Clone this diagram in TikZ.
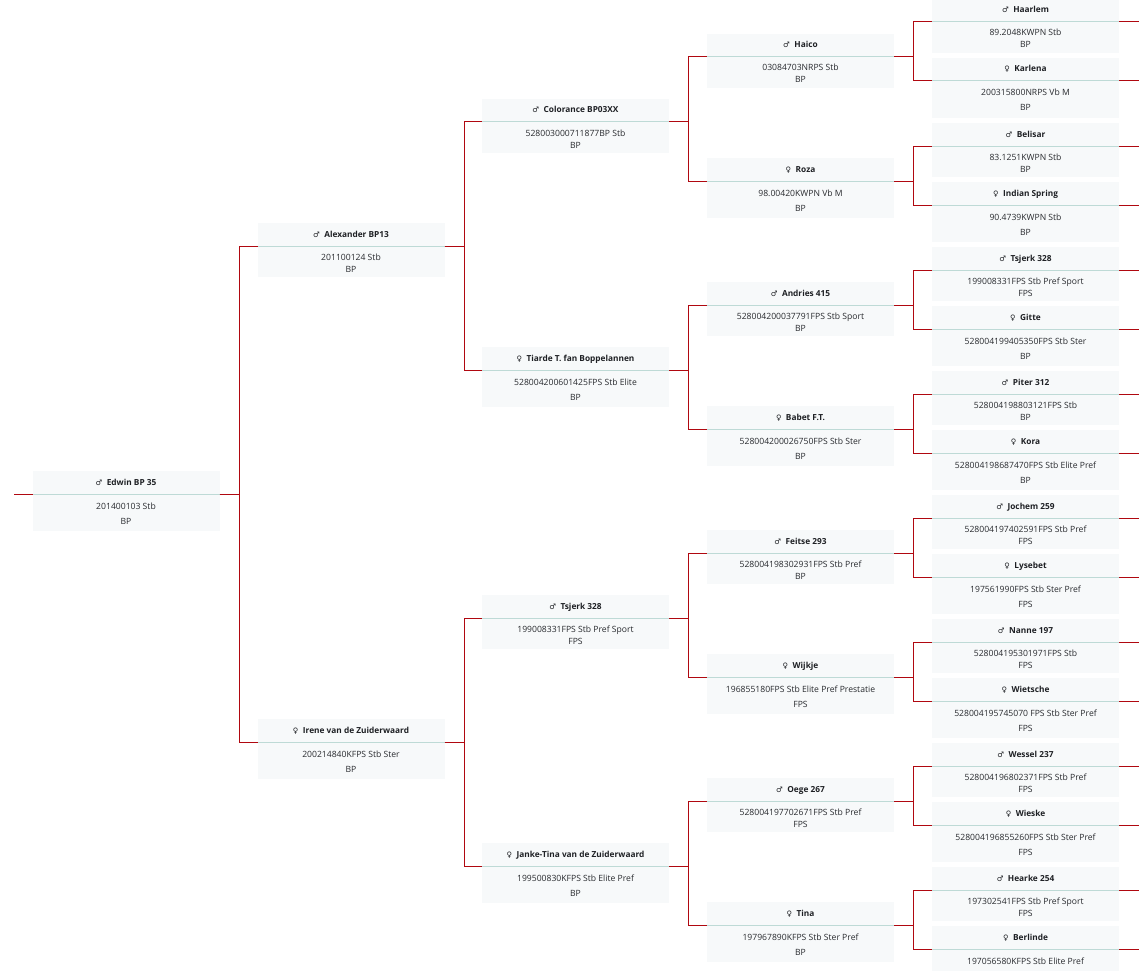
\documentclass[tikz,border=0pt]{standalone}
\usepackage{fontspec}
\setmainfont{Open Sans}
\newfontfamily\symfont{DejaVu Sans}
\definecolor{linered}{RGB}{176,8,16}
\definecolor{boxfill}{RGB}{247,249,250}
\definecolor{sepcol}{RGB}{190,218,214}
\definecolor{textdark}{RGB}{30,32,36}
\definecolor{textbody}{RGB}{40,42,46}
\tikzset{
  conn/.style={draw=linered, line width=1pt},
  pbox/.style={fill=boxfill, draw=none, minimum width=187pt, inner sep=0pt, anchor=north west},
  sepline/.style={draw=sepcol, line width=1pt},
  nametext/.style={font=\fontsize{8.3}{10}\selectfont\bfseries, text=textdark, inner sep=0pt, anchor=base},
  bodytext/.style={font=\fontsize{8.6}{10}\selectfont, text=textbody, inner sep=0pt, anchor=base},
}
\newcommand\gsym[1]{\ifx m#1{\symfont\fontsize{7.5}{9}\selectfont\char"2642}\else{\symfont\fontsize{7.5}{9}\selectfont\char"2640}\fi\hspace{4.5pt}}
% id, x, sep, sex, spacing, name, line1, line2
\newcommand\person[8]{%
  \ifx m#5\def\pbot{31}\def\pla{11}\def\plb{23}\else\def\pbot{37}\def\pla{12}\def\plb{27}\fi
  \node[pbox, minimum height={(23+\pbot)*1pt}] (#1) at (#2,{#3-23}) {};
  \draw[sepline] (#2,#3) -- ++(187,0);
  \coordinate (#1-l) at (#2,#3);
  \coordinate (#1-r) at ({#2+187},#3);
  \node[nametext] (#1-name) at ({#2+93.5},{#3-12+3}) {\gsym{#4}#6};
  \node[bodytext] (#1-reg) at ({#2+93.5},{#3+\pla+3}) {#7};
  \node[bodytext] (#1-stb) at ({#2+93.5},{#3+\plb+3}) {#8};
}
\begin{document}
\begin{tikzpicture}[x=1pt,y=-1pt]
\clip (0,0) rectangle (1145,971);
\fill[white] (0,0) rectangle (1145,971);
% generation 0
\person{edwin}{32.5}{494}{m}{f}{Edwin BP 35}{201400103 Stb}{BP}
% generation 1
\person{alex}{257.5}{246}{m}{m}{Alexander BP13}{201100124 Stb}{BP}
\person{irene}{257.5}{742}{f}{f}{Irene van de Zuiderwaard}{200214840KFPS Stb Ster}{BP}
% generation 2
\person{colorance}{482}{122}{m}{m}{Colorance BP03XX}{528003000711877BP Stb}{BP}
\person{tiarde}{482}{370}{f}{f}{Tiarde T. fan Boppelannen}{528004200601425FPS Stb Elite}{BP}
\person{tsjerkA}{482}{618}{m}{m}{Tsjerk 328}{199008331FPS Stb Pref Sport}{FPS}
\person{janke}{482}{866}{f}{f}{Janke-Tina van de Zuiderwaard}{199500830KFPS Stb Elite Pref}{BP}
% generation 3
\person{haico}{707}{57}{m}{m}{Haico}{03084703NRPS Stb}{BP}
\person{roza}{707}{181}{f}{f}{Roza}{98.00420KWPN Vb M}{BP}
\person{andries}{707}{305}{m}{m}{Andries 415}{528004200037791FPS Stb Sport}{BP}
\person{babet}{707}{429}{f}{f}{Babet F.T.}{528004200026750FPS Stb Ster}{BP}
\person{feitse}{707}{553}{m}{m}{Feitse 293}{528004198302931FPS Stb Pref}{BP}
\person{wijkje}{707}{677}{f}{f}{Wijkje}{196855180FPS Stb Elite Pref Prestatie}{FPS}
\person{oege}{707}{801}{m}{m}{Oege 267}{528004197702671FPS Stb Pref}{FPS}
\person{tina}{707}{925}{f}{f}{Tina}{197967890KFPS Stb Ster Pref}{BP}
% generation 4
\person{haarlem}{932}{22}{m}{m}{Haarlem}{89.2048KWPN Stb}{BP}
\person{karlena}{932}{81}{f}{f}{Karlena}{200315800NRPS Vb M}{BP}
\person{belisar}{932}{146}{m}{m}{Belisar}{83.1251KWPN Stb}{BP}
\person{indian}{932}{205}{f}{f}{Indian Spring}{90.4739KWPN Stb}{BP}
\person{tsjerkB}{932}{270}{m}{m}{Tsjerk 328}{199008331FPS Stb Pref Sport}{FPS}
\person{gitte}{932}{329}{f}{f}{Gitte}{528004199405350FPS Stb Ster}{BP}
\person{piter}{932}{394}{m}{m}{Piter 312}{528004198803121FPS Stb}{BP}
\person{kora}{932}{453}{f}{f}{Kora}{528004198687470FPS Stb Elite Pref}{BP}
\person{jochem}{932}{518}{m}{m}{Jochem 259}{528004197402591FPS Stb Pref}{FPS}
\person{lysebet}{932}{577}{f}{f}{Lysebet}{197561990FPS Stb Ster Pref}{FPS}
\person{nanne}{932}{642}{m}{m}{Nanne 197}{528004195301971FPS Stb}{FPS}
\person{wietsche}{932}{701}{f}{f}{Wietsche}{528004195745070 FPS Stb Ster Pref}{FPS}
\person{wessel}{932}{766}{m}{m}{Wessel 237}{528004196802371FPS Stb Pref}{FPS}
\person{wieske}{932}{825}{f}{f}{Wieske}{528004196855260FPS Stb Ster Pref}{FPS}
\person{hearke}{932}{890}{m}{m}{Hearke 254}{197302541FPS Stb Pref Sport}{FPS}
\person{berlinde}{932}{949}{f}{f}{Berlinde}{197056580KFPS Stb Elite Pref}{}
% connectors
\coordinate (root-in) at (14,494);
\draw[conn] (root-in) -- (edwin-l);
\foreach \p/\a/\b/\d in {edwin/alex/irene/19.5,
  alex/colorance/tiarde/19.5, irene/tsjerkA/janke/19.5,
  colorance/haico/roza/19.5, tiarde/andries/babet/19.5,
  tsjerkA/feitse/wijkje/19.5, janke/oege/tina/19.5,
  haico/haarlem/karlena/19, roza/belisar/indian/19,
  andries/tsjerkB/gitte/19, babet/piter/kora/19,
  feitse/jochem/lysebet/19, wijkje/nanne/wietsche/19,
  oege/wessel/wieske/19, tina/hearke/berlinde/19}{
  \draw[conn] (\p-r) -- ++(\d,0) |- (\a-l);
  \draw[conn] (\p-r) -- ++(\d,0) |- (\b-l);
}
\foreach \q in {haarlem,karlena,belisar,indian,tsjerkB,gitte,piter,kora,jochem,lysebet,nanne,wietsche,wessel,wieske,hearke,berlinde}{
  \draw[conn] (\q-r) -- ++(20,0) coordinate (\q-out);
}
\end{tikzpicture}
\end{document}
